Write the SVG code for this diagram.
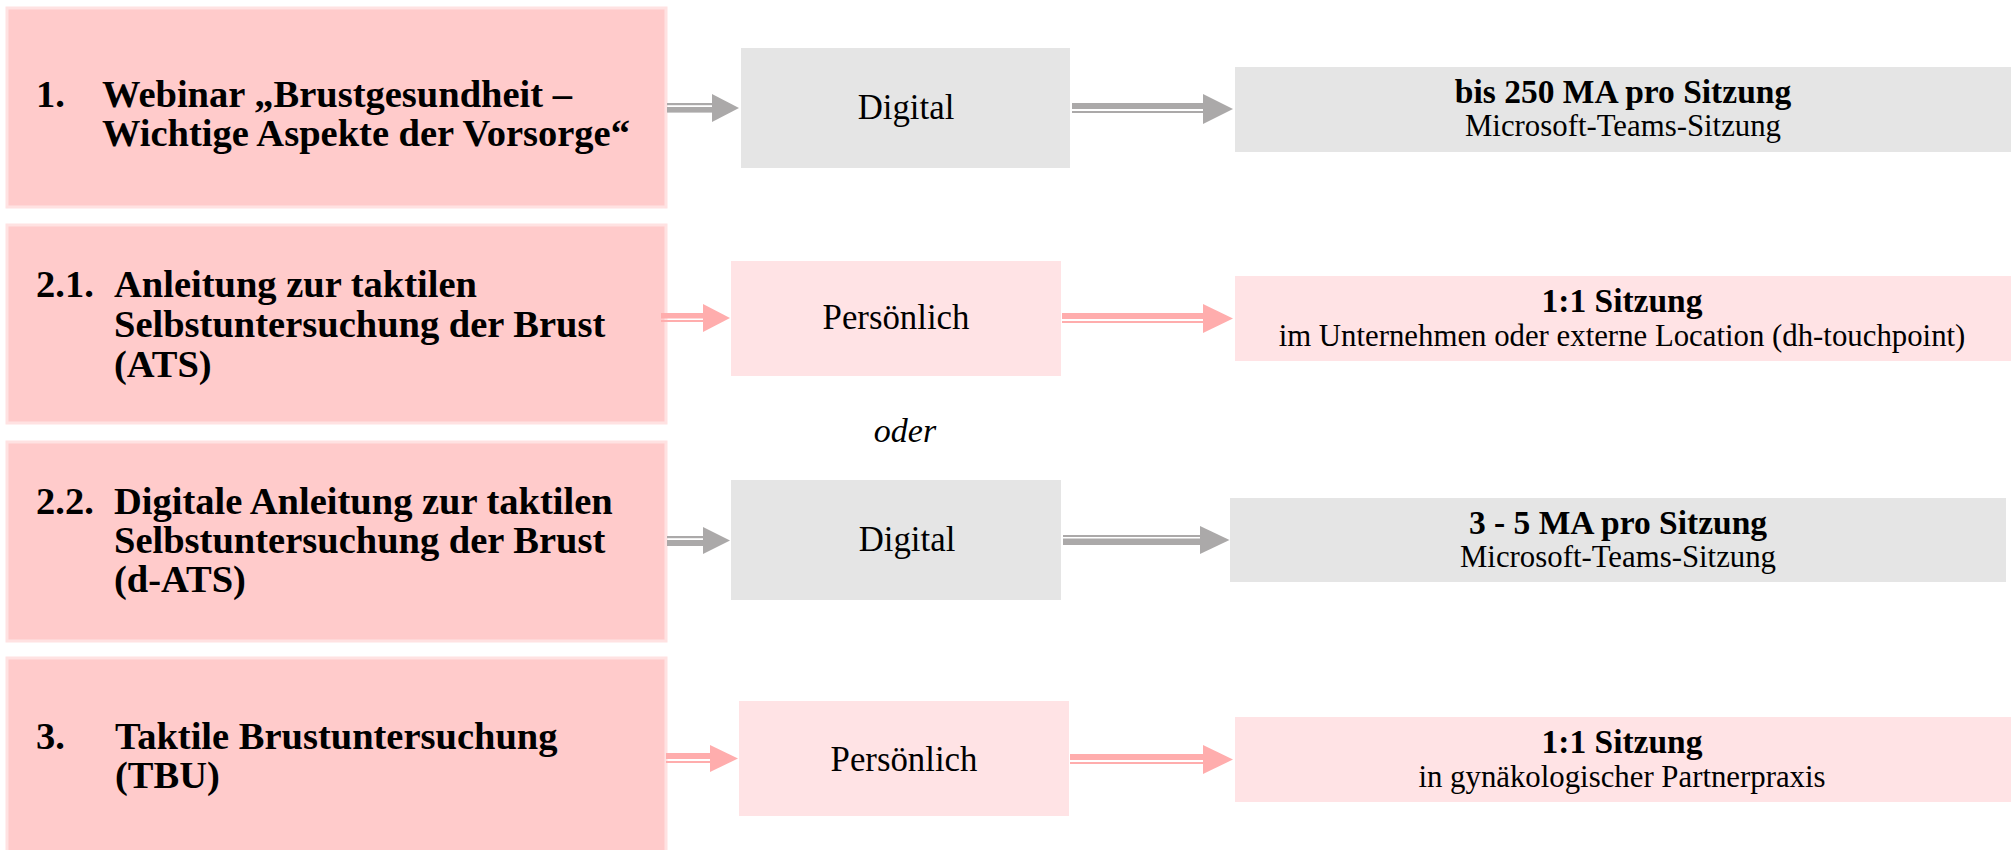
<svg xmlns="http://www.w3.org/2000/svg" width="2011" height="850" viewBox="0 0 2011 850">
<style>
.lbox{fill:#FFCBCB;stroke:#FFE2E2;stroke-width:3}
.gbox{fill:#E5E5E5}
.pbox{fill:#FFE3E5}
.lt{font-family:"Liberation Serif",serif;font-weight:bold;font-size:38.5px;fill:#000}
.mt{font-family:"Liberation Serif",serif;font-size:34.8px;fill:#000;text-anchor:middle}
.rb{font-family:"Liberation Serif",serif;font-weight:bold;font-size:33.5px;fill:#000;text-anchor:middle}
.rr{font-family:"Liberation Serif",serif;font-size:30.8px;fill:#000;text-anchor:middle}
.it{font-family:"Liberation Serif",serif;font-style:italic;font-size:34px;fill:#000;text-anchor:middle}
.ag{fill:#ABA9A9}
.ap{fill:#FFADAD}
</style>
<rect width="2011" height="850" fill="#FFFFFF"/>
<g id="node-1">
<rect class="lbox" x="7" y="8" width="659" height="199"/>
<text class="lt" x="36" y="106.5">1.</text>
<text class="lt" x="102" y="106.5">Webinar „Brustgesundheit –</text>
<text class="lt" x="102" y="145.5">Wichtige Aspekte der Vorsorge“</text>
</g>
<g id="node-2-1">
<rect class="lbox" x="7" y="225" width="659" height="198"/>
<text class="lt" x="36" y="297">2.1.</text>
<text class="lt" x="114" y="297">Anleitung zur taktilen</text>
<text class="lt" x="114" y="337">Selbstuntersuchung der Brust</text>
<text class="lt" x="114" y="377">(ATS)</text>
</g>
<g id="node-2-2">
<rect class="lbox" x="7" y="442" width="659" height="199"/>
<text class="lt" x="36" y="514">2.2.</text>
<text class="lt" x="114" y="514">Digitale Anleitung zur taktilen</text>
<text class="lt" x="114" y="553">Selbstuntersuchung der Brust</text>
<text class="lt" x="114" y="592">(d-ATS)</text>
</g>
<g id="node-3">
<rect class="lbox" x="7" y="658" width="659" height="194"/>
<text class="lt" x="36" y="749">3.</text>
<text class="lt" x="115" y="749">Taktile Brustuntersuchung</text>
<text class="lt" x="115" y="788">(TBU)</text>
</g>
<g id="mid-1">
<rect class="gbox" x="741" y="48" width="329" height="120"/>
<text class="mt" x="906" y="119">Digital</text>
</g>
<g id="mid-2">
<rect class="pbox" x="731" y="261" width="330" height="115"/>
<text class="mt" x="896" y="329">Persönlich</text>
</g>
<g id="mid-3">
<rect class="gbox" x="731" y="480" width="330" height="120"/>
<text class="mt" x="907" y="551">Digital</text>
</g>
<g id="mid-4">
<rect class="pbox" x="739" y="701" width="330" height="115"/>
<text class="mt" x="904" y="771">Persönlich</text>
</g>
<g id="oder">
<text class="it" x="905" y="442">oder</text>
</g>
<g id="right-1">
<rect class="gbox" x="1235" y="67" width="776" height="85"/>
<text class="rb" x="1623" y="103">bis 250 MA pro Sitzung</text>
<text class="rr" x="1623" y="136">Microsoft-Teams-Sitzung</text>
</g>
<g id="right-2">
<rect class="pbox" x="1235" y="276" width="776" height="85"/>
<text class="rb" x="1622" y="312">1:1 Sitzung</text>
<text class="rr" x="1622" y="346">im Unternehmen oder externe Location (dh-touchpoint)</text>
</g>
<g id="right-3">
<rect class="gbox" x="1230" y="498" width="776" height="84"/>
<text class="rb" x="1618" y="534">3 - 5 MA pro Sitzung</text>
<text class="rr" x="1618" y="567">Microsoft-Teams-Sitzung</text>
</g>
<g id="right-4">
<rect class="pbox" x="1235" y="717" width="776" height="85"/>
<text class="rb" x="1622" y="753">1:1 Sitzung</text>
<text class="rr" x="1622" y="787">in gynäkologischer Partnerpraxis</text>
</g>
<g id="connectors">
<g class="ag">
<rect x="667" y="103" width="46" height="2.2"/>
<rect x="667" y="107" width="46" height="5.6"/>
<polygon points="712,94 739,108 712,122"/>
<rect x="1072" y="103" width="133" height="6"/>
<rect x="1072" y="111" width="133" height="2"/>
<polygon points="1203,94 1233,109 1203,124"/>
<rect x="667" y="536" width="37" height="2.2"/>
<rect x="667" y="540" width="37" height="6"/>
<polygon points="703,527 730,540.5 703,554"/>
<rect x="1063" y="535" width="138" height="2"/>
<rect x="1063" y="538.5" width="138" height="6.5"/>
<polygon points="1200,526 1229.5,540 1200,554"/>
</g>
<g class="ap">
<rect x="661" y="313" width="43" height="5.5"/>
<rect x="661" y="320" width="43" height="2"/>
<polygon points="703,304 730,318 703,332"/>
<rect x="1062" y="313" width="143" height="6"/>
<rect x="1062" y="321" width="143" height="2"/>
<polygon points="1203,304 1233,318.5 1203,333"/>
<rect x="666" y="753" width="45" height="6"/>
<rect x="666" y="761" width="45" height="2"/>
<polygon points="710,745 738,758.5 710,772"/>
<rect x="1070" y="754" width="135" height="6"/>
<rect x="1070" y="762" width="135" height="2"/>
<polygon points="1203,745 1233,759.5 1203,774"/>
</g>
</g>
</svg>
